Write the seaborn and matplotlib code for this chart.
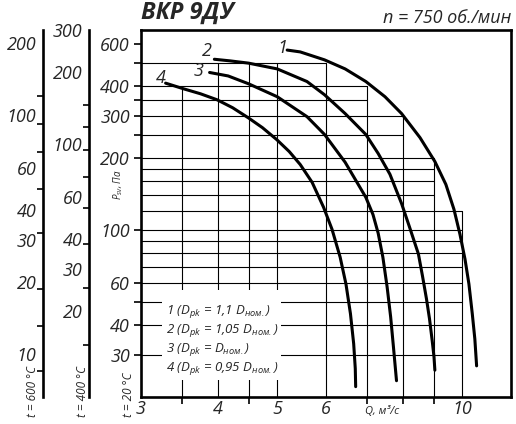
import numpy as np
import pandas as pd
import seaborn as sns
import matplotlib.pyplot as plt
from matplotlib.ticker import FixedLocator, FixedFormatter, NullFormatter
from matplotlib.patches import Rectangle

# fan curves, Q (m3/s) vs P (Pa) at t = 20 C
q_1 = [5.19, 5.45, 5.97, 6.45, 6.97, 7.49, 7.97, 8.54, 9.03, 9.41, 9.70, 9.92,
       10.11, 10.26, 10.39, 10.49, 10.56]
p_1 = [566, 556, 515, 472, 418, 361, 307, 243.5, 193.4, 155.1, 122, 96, 75.5,
       59.4, 44.6, 35.0, 27.0]
q_2 = [3.95, 4.19, 4.49, 5.0, 5.59, 5.97, 6.45, 6.97, 7.30, 7.63, 7.97, 8.22,
       8.49, 8.62, 8.75, 8.85, 8.94, 9.00, 9.03]
p_2 = [518, 510, 499, 472, 418, 368, 307, 251, 209, 171, 129, 102, 79.3, 64.2,
       51.5, 42.5, 34.4, 29.5, 25.9]
q_3 = [3.88, 4.16, 4.49, 5.0, 5.59, 5.97, 6.45, 6.97, 7.16, 7.30, 7.43, 7.55,
       7.65, 7.73, 7.82]
p_3 = [456, 441, 409, 361, 298, 251, 192, 137, 116, 97, 77, 57.7, 43.3, 32.5,
       23.4]
q_4 = [3.29, 3.52, 3.75, 3.99, 4.23, 4.49, 4.73, 4.99, 5.23, 5.45, 5.70, 5.95,
       6.14, 6.33, 6.47, 6.58, 6.66, 6.70, 6.71]
p_4 = [411.5, 389.6, 371.4, 350.6, 324.7, 294.2, 268, 238.9, 212.9, 187.9, 158.1,
       124.3, 100.7, 77.0, 59.4, 44.6, 33.4, 26.3, 22.1]
curve_names = ["1", "2", "3", "4"]

legend_lines = [
    r"1 ($D_{pk}$ = 1,1 $D_{ном.}$)",
    r"2 ($D_{pk}$ = 1,05 $D_{ном.}$)",
    r"3 ($D_{pk}$ = $D_{ном.}$)",
    r"4 ($D_{pk}$ = 0,95 $D_{ном.}$)",
]

p_ticks = [600, 400, 300, 200, 100, 60, 40, 30]
p_minor = [500, 350, 250, 50]
q_ticks = [3, 4, 5, 6, 10]
q_minor = [3.5, 4.5, 7, 8, 9]

t400_ticks = [300, 200, 100, 60, 40, 30, 20]
t400_minor = [145, 118, 94, 73, 54, 38, 25, 14.4]
t600_ticks = [200, 100, 60, 40, 30, 20, 10]
t600_minor = [120, 92, 70, 49, 32, 18.6, 13.1, 8.5]

# stepped grid that stays under curve 1
h_grid = {500: 6, 400: 7, 350: 7, 300: 8, 250: 8, 200: 9, 180: 9, 160: 9,
          140: 9, 120: 10, 100: 10, 90: 10, 80: 10, 70: 10, 60: 10, 50: 10,
          40: 10, 30: 10}
v_grid = {3.5: 400, 4: 500, 4.5: 500, 5: 500, 6: 500, 7: 400, 8: 300,
          9: 200, 10: 120}

Q_LIM = (3, 12)
P_LIM = (20, 690)

sns.set_theme(style="white")
plt.rcParams["font.family"] = ["Open Sans", "DejaVu Sans"]
plt.rcParams["font.style"] = "italic"
plt.rcParams["mathtext.fontset"] = "custom"
plt.rcParams["mathtext.it"] = "Open Sans:italic"
plt.rcParams["mathtext.rm"] = "Open Sans:italic"

df = pd.concat([
    pd.DataFrame({"Q": q, "P": p, "curve": name})
    for q, p, name in zip([q_1, q_2, q_3, q_4], [p_1, p_2, p_3, p_4], curve_names)
])

W, H = 516, 424
fig = plt.figure(figsize=(W / 100, H / 100), dpi=100)
top_px, bot_px = 29.5, 397
ax = fig.add_axes([141 / W, 1 - bot_px / H, (510.7 - 141) / W, (bot_px - top_px) / H])
ax.set_xscale("log")
ax.set_yscale("log")
ax.set_xlim(*Q_LIM)
ax.set_ylim(*P_LIM)

for lvl, q_end in h_grid.items():
    ax.plot([Q_LIM[0], q_end], [lvl, lvl], color="black", lw=0.8, zorder=1)
for qv, p_top in v_grid.items():
    ax.plot([qv, qv], [P_LIM[0], p_top], color="black", lw=0.8, zorder=1)

# white legend box over the grid
ax.add_patch(Rectangle((3.25, 23.6), 5.07 - 3.25, 56 - 23.6, facecolor="white",
                       edgecolor="none", zorder=2))

sns.lineplot(data=df, x="Q", y="P", units="curve", estimator=None, color="black",
             lw=2.2, ax=ax, zorder=3, legend=False)

label_offsets = {"1": (-5, 2), "2": (-8, 8), "3": (-11, 1), "4": (-5, 5)}
for name, q, p in zip(curve_names, [q_1, q_2, q_3, q_4], [p_1, p_2, p_3, p_4]):
    ax.annotate(name, xy=(q[0], p[0]), xytext=label_offsets[name],
                textcoords="offset pixels", ha="center", va="center",
                fontsize=13, fontstyle="italic")

for i, line in enumerate(legend_lines):
    ypx = 311.7 + i * 18.8
    ax.text(166 / W, 1 - ypx / H, line, transform=fig.transFigure, ha="left",
            va="center", fontsize=9.5, fontstyle="italic", zorder=4)

for side in ["left", "right", "top", "bottom"]:
    ax.spines[side].set_color("black")
    ax.spines[side].set_linewidth(1.9)

ax.yaxis.set_major_locator(FixedLocator(p_ticks))
ax.yaxis.set_major_formatter(FixedFormatter([str(v) for v in p_ticks]))
ax.yaxis.set_minor_locator(FixedLocator(p_minor))
ax.yaxis.set_minor_formatter(NullFormatter())
ax.xaxis.set_major_locator(FixedLocator(q_ticks))
ax.xaxis.set_major_formatter(FixedFormatter([str(v) for v in q_ticks]))
ax.xaxis.set_minor_locator(FixedLocator(q_minor))
ax.xaxis.set_minor_formatter(NullFormatter())
ax.tick_params(axis="y", which="both", direction="out", length=5, width=1.2,
               color="black", left=True, labelsize=13, pad=3)
ax.tick_params(axis="x", which="major", bottom=True, length=0, labelsize=13, pad=2)
ax.tick_params(axis="x", which="minor", bottom=True, direction="out", length=5,
               width=1.2, color="black")
ax.set_xlabel("")
ax.set_ylabel("")


def temp_axis(x_px, ratio, ticks, minor):
    a = fig.add_axes([x_px / W, 1 - bot_px / H, 0.001, (bot_px - top_px) / H])
    a.set_yscale("log")
    a.set_ylim(P_LIM[0] * ratio, P_LIM[1] * ratio)
    a.set_xticks([])
    for side in ["right", "top", "bottom"]:
        a.spines[side].set_visible(False)
    a.spines["left"].set_linewidth(1.9)
    a.spines["left"].set_color("black")
    a.patch.set_alpha(0)
    a.yaxis.set_major_locator(FixedLocator(ticks))
    a.yaxis.set_major_formatter(FixedFormatter([str(v) for v in ticks]))
    a.yaxis.set_minor_locator(FixedLocator(minor))
    a.yaxis.set_minor_formatter(NullFormatter())
    a.tick_params(which="major", left=True, length=0, labelsize=13, pad=5)
    a.tick_params(which="minor", left=True, length=4, width=1.2, color="black")
    return a


temp_axis(43.3, 0.33, t600_ticks, t600_minor)
temp_axis(89.3, 0.437, t400_ticks, t400_minor)

fig.text(141 / W, 1 - 13 / H, "ВКР 9ДУ", fontsize=17, fontweight="bold",
         fontstyle="italic", ha="left", va="center")
fig.text(511 / W, 1 - 23 / H, "n = 750 об./мин", fontsize=13, fontstyle="italic",
         ha="right", va="baseline")
fig.text(118 / W, 1 - 185 / H, r"P$_{sv}$, Па", fontsize=7, rotation=90,
         ha="center", va="center")
fig.text(382 / W, 1 - 411 / H, "Q, м³/с", fontsize=8, ha="center", va="center")
for x_px, lab in [(33, "t = 600 °C"), (82, "t = 400 °C"), (128, "t = 20 °C")]:
    fig.text(x_px / W, 1 - 417 / H, lab, fontsize=8.5, rotation=90,
             ha="center", va="bottom")

fig.savefig("out.png", dpi=100)
